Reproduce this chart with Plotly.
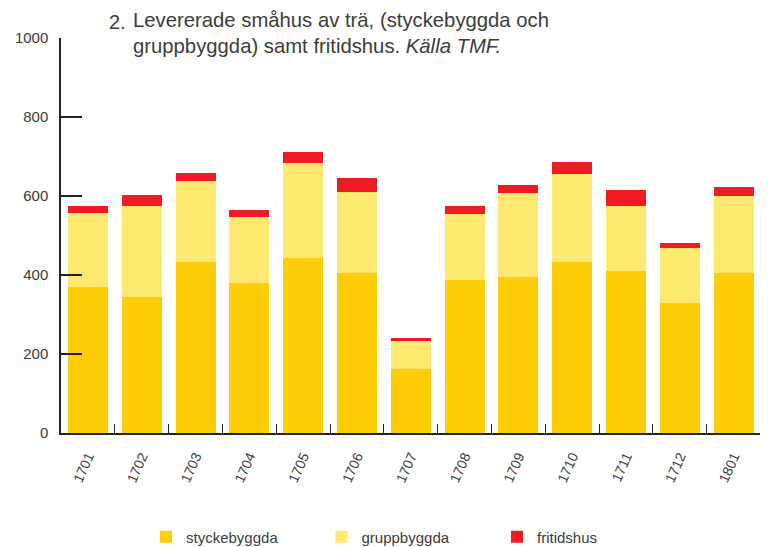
import plotly.graph_objects as go

categories = ["1701", "1702", "1703", "1704", "1705", "1706", "1707",
              "1708", "1709", "1710", "1711", "1712", "1801"]
styckebyggda = [369, 344, 433, 380, 443, 405, 162, 387, 395, 433, 410, 329, 405]
gruppbyggda = [188, 231, 205, 167, 241, 205, 71, 168, 213, 223, 165, 139, 195]
fritidshus = [18, 28, 20, 18, 28, 36, 8, 20, 20, 30, 40, 13, 23]
y_ticks = [0, 200, 400, 600, 800, 1000]

colors = {"styckebyggda": "#FDCD08", "gruppbyggda": "#FDE870", "fritidshus": "#ED1C24"}
font_family = "Liberation Sans, Arial, sans-serif"
text_color = "#3c3c3c"

# the page places the figure with an 8px body margin
OFF = 8
W, H = 768 - OFF, 547 - OFF
L, T, R = 61 - OFF, 38 - OFF, 1
B = H - (433 - OFF)
PW, PH = W - L - R, H - T - B

fig = go.Figure()
for name, vals in [("styckebyggda", styckebyggda), ("gruppbyggda", gruppbyggda),
                   ("fritidshus", fritidshus)]:
    fig.add_trace(go.Bar(x=categories, y=vals, name=name,
                         marker=dict(color=colors[name], line=dict(width=0))))

fig.update_layout(
    barmode="stack",
    bargap=0.257,
    width=W, height=H,
    margin=dict(l=L, r=R, t=T, b=B, autoexpand=False),
    paper_bgcolor="white", plot_bgcolor="white",
    font=dict(family=font_family, color=text_color, size=15),
    showlegend=True,
    legend=dict(orientation="h", x=(146 - OFF - L) / PW, xanchor="left",
                y=-((537 - OFF) - (T + PH)) / PH, yanchor="middle",
                font=dict(size=15, color=text_color),
                entrywidth=130.5, entrywidthmode="pixels",
                itemclick=False, itemdoubleclick=False,
                traceorder="normal", bgcolor="rgba(0,0,0,0)"),
    xaxis=dict(range=[-0.5, 12.62], showline=True, linecolor="#222", linewidth=1.5,
               ticks="inside", tickson="boundaries", ticklen=9, tickwidth=1.2,
               tickcolor="#222", tickangle=-66, showgrid=False, zeroline=False,
               ticklabelstandoff=8, automargin=False,
               tickfont=dict(size=14, color=text_color), fixedrange=True),
    yaxis=dict(range=[0, 1000], tickvals=y_ticks, showline=True, linecolor="#222",
               linewidth=1.5, ticks="inside", ticklen=21, tickwidth=1.5, tickcolor="#222",
               showgrid=False, zeroline=False, ticklabelstandoff=8, automargin=False,
               tickfont=dict(size=15, color=text_color), fixedrange=True),
)

fig.add_annotation(text="2.", xref="paper", yref="paper", x=(107 - OFF - L) / PW,
                   y=1 + (T - (22 - OFF)) / PH,
                   xanchor="left", yanchor="middle", showarrow=False,
                   font=dict(size=20, color=text_color, family=font_family))
fig.add_annotation(text="Levererade småhus av trä, (styckebyggda och<br>gruppbyggda) samt fritidshus. <i>Källa TMF.</i>",
                   xref="paper", yref="paper", x=(131 - OFF - L) / PW,
                   y=1 + (T - (7 - OFF)) / PH,
                   xanchor="left", yanchor="top", align="left", showarrow=False,
                   font=dict(size=20.3, color=text_color, family=font_family))

fig.write_html("out.html")
